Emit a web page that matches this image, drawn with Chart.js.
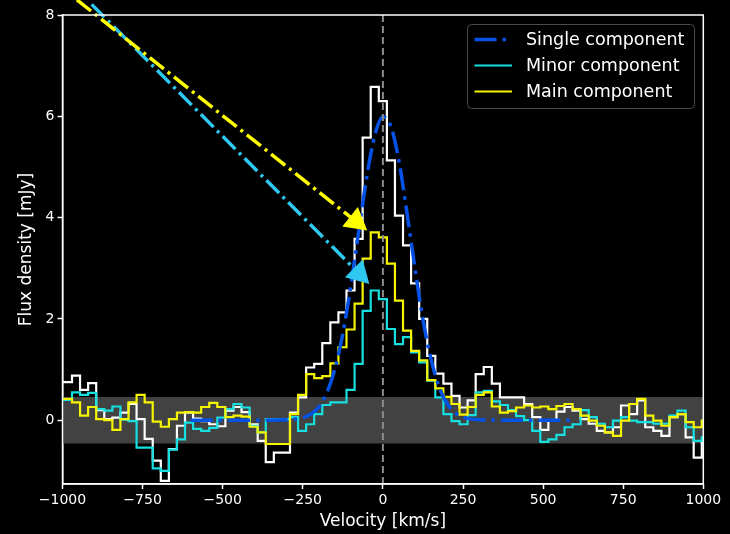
<!DOCTYPE html>
<html>
<head>
<meta charset="utf-8">
<script src="https://cdn.jsdelivr.net/npm/chart.js@4.4.1/dist/chart.umd.min.js"></script>
<style>
  html, body { margin: 0; padding: 0; background: #000; }
  #wrap { width: 730px; height: 534px; }
</style>
</head>
<body>
<div id="wrap"><canvas id="spec" width="730" height="534"></canvas></div>
<script>
// Channel grid: first channel centre and channel width, km/s
const V_FIRST = -1008.2;
const DV = 25.2;

// Flux per channel [mJy]
const totalFlux = [
  0.75, 0.75, 0.88, 0.60, 0.73, 0.20, 0.02, 0.05, 0.15, 0.32,
  0.02, -0.37, -0.80, -1.20, -0.57, -0.11, 0.15, 0.03, -0.02, -0.08,
  -0.12, 0.19, 0.26, 0.16, -0.08, -0.41, -0.83, -0.64, -0.64, 0.15,
  0.45, 1.04, 1.11, 1.52, 1.93, 2.13, 2.56, 3.58, 5.58, 6.58,
  6.30, 5.13, 4.04, 3.45, 2.70, 2.00, 1.27, 0.92, 0.72, 0.48,
  0.25, 0.39, 0.91, 1.05, 0.72, 0.45, 0.45, 0.45, 0.32, 0.06,
  -0.19, 0.00, 0.17, 0.26, 0.19, 0.02, -0.07, -0.21, -0.24, -0.14,
  0.29, 0.12, 0.39, -0.14, -0.21, -0.31, 0.06, 0.12, -0.34, -0.74,
  -0.41
];
const minorFlux = [
  0.40, 0.40, 0.55, 0.50, 0.54, 0.22, 0.19, 0.27, 0.01, -0.02,
  -0.54, -0.54, -0.95, -1.00, -0.58, -0.38, -0.05, -0.17, -0.21, -0.15,
  0.05, 0.22, 0.32, 0.25, -0.11, -0.24, 0.02, 0.02, 0.02, 0.06,
  -0.21, -0.08, 0.12, 0.30, 0.35, 0.35, 0.60, 1.11, 2.16, 2.56,
  2.39, 1.80, 1.50, 1.64, 1.34, 1.14, 0.78, 0.45, 0.12, -0.02,
  -0.08, 0.10, 0.55, 0.58, 0.37, 0.30, 0.20, 0.08, 0.00, -0.21,
  -0.43, -0.38, -0.29, -0.14, -0.08, 0.20, 0.06, -0.07, -0.14, -0.01,
  0.06, -0.01, -0.04, -0.04, -0.07, -0.07, 0.09, 0.19, -0.14, -0.41,
  -0.34
];
const mainFlux = [
  0.42, 0.42, 0.35, 0.09, 0.26, 0.02, 0.00, -0.19, 0.02, 0.35,
  0.50, 0.35, -0.03, -0.13, 0.02, 0.15, 0.16, 0.15, 0.26, 0.34,
  0.26, 0.06, 0.09, 0.07, -0.13, -0.24, -0.47, -0.47, -0.47, 0.12,
  0.50, 0.91, 0.83, 0.87, 1.12, 1.44, 1.79, 2.30, 3.19, 3.71,
  3.61, 3.09, 2.36, 1.77, 1.37, 1.18, 0.79, 0.63, 0.46, 0.32,
  0.11, 0.26, 0.50, 0.55, 0.27, 0.15, 0.18, 0.25, 0.29, 0.25,
  0.27, 0.22, 0.28, 0.32, 0.22, 0.09, -0.01, -0.11, -0.24, -0.31,
  -0.01, 0.32, 0.42, 0.09, -0.01, -0.11, 0.06, 0.12, -0.04, -0.14,
  -0.01
];

// Single-component fit, sampled off the plot
const gaussVel  = [-600, -400, -300, -250, -225, -200, -175, -150, -125, -100, -75, -50, -25,
                   0, 25, 50, 75, 100, 125, 150, 175, 200, 225, 250, 300, 400, 600];
const gaussFlux = [0, 0, 0.01, 0.05, 0.12, 0.26, 0.54, 1.01, 1.71, 2.66, 3.75, 4.82, 5.63,
                   5.99, 5.80, 5.12, 4.10, 3.00, 1.99, 1.21, 0.66, 0.33, 0.15, 0.06, 0.01, 0, 0];

const noiseBand = [-0.46, 0.46];
const xTicks = [-1000, -750, -500, -250, 0, 250, 500, 750, 1000];
const yTicks = [0, 2, 4, 6, 8];
const mainArrow  = [{ x: -955, y: 8.30 }, { x: -48.7, y: 3.745 }];
const minorArrow = [{ x: -909, y: 8.21 }, { x: -42.4, y: 2.69 }];

const velocities = totalFlux.map((_, i) => +(V_FIRST + i * DV).toFixed(1));
const steps = arr => arr.map((y, i) => ({ x: velocities[i], y }));

const FONT = 'DejaVu Sans';
Chart.defaults.font.family = FONT;

// white box round the axes
const framePlugin = {
  id: 'frame',
  afterDatasetsDraw(chart) {
    const { ctx, chartArea: a } = chart;
    ctx.save();
    ctx.strokeStyle = '#fff';
    ctx.lineWidth = 1.5;
    ctx.strokeRect(a.left, a.top, a.right - a.left, a.bottom - a.top);
    ctx.restore();
  }
};

// filled triangle at the end of the arrow datasets
const arrowHeadPlugin = {
  id: 'arrowHeads',
  afterDatasetsDraw(chart) {
    const ctx = chart.ctx;
    chart.data.datasets.forEach((ds, i) => {
      if (!ds.arrowHead) return;
      const pts = chart.getDatasetMeta(i).data;
      const a = pts[pts.length - 2], b = pts[pts.length - 1];
      const ang = Math.atan2(b.y - a.y, b.x - a.x);
      ctx.save();
      ctx.translate(b.x, b.y);
      ctx.rotate(ang);
      ctx.beginPath();
      ctx.moveTo(0, 0);
      ctx.lineTo(-22, -12.5);
      ctx.lineTo(-22, 12.5);
      ctx.closePath();
      ctx.fillStyle = ds.borderColor;
      ctx.fill();
      ctx.restore();
    });
  }
};

// framed legend in the upper right
const boxLegendPlugin = {
  id: 'boxLegend',
  afterDraw(chart) {
    const ctx = chart.ctx;
    const items = chart.data.datasets
      .filter(d => d.legendRow !== undefined)
      .sort((p, q) => p.legendRow - q.legendRow);
    const x = 467.5, y = 24.5, w = 227, h = 84, r = 4;
    ctx.save();
    ctx.beginPath();
    ctx.moveTo(x + r, y);
    ctx.arcTo(x + w, y, x + w, y + h, r);
    ctx.arcTo(x + w, y + h, x, y + h, r);
    ctx.arcTo(x, y + h, x, y, r);
    ctx.arcTo(x, y, x + w, y, r);
    ctx.closePath();
    ctx.fillStyle = 'rgba(0,0,0,0.8)';
    ctx.fill();
    ctx.strokeStyle = '#4a4a4a';
    ctx.lineWidth = 1;
    ctx.stroke();
    items.forEach((d, i) => {
      const cy = 39.5 + i * 26;
      ctx.strokeStyle = d.borderColor;
      ctx.lineWidth = d.borderWidth;
      ctx.setLineDash(d.borderDash || []);
      ctx.beginPath();
      ctx.moveTo(474.5, cy);
      ctx.lineTo(512, cy);
      ctx.stroke();
      ctx.setLineDash([]);
      ctx.fillStyle = '#fff';
      ctx.font = '17.5px "' + FONT + '"';
      ctx.textBaseline = 'middle';
      ctx.fillText(d.label, 526, cy + 1);
    });
    ctx.restore();
  }
};

const tickFont = { family: FONT, size: 14 };
const titleFont = { family: FONT, size: 17 };

new Chart(document.getElementById('spec'), {
  type: 'line',
  data: {
    datasets: [
      {
        label: 'Main arrow', data: mainArrow, arrowHead: true, order: 0,
        borderColor: '#ffff00', borderWidth: 3.5, borderDash: [18, 5, 3, 5],
        pointRadius: 0, clip: false
      },
      {
        label: 'Minor arrow', data: minorArrow, arrowHead: true, order: 0,
        borderColor: '#2ec8f0', borderWidth: 3.5, borderDash: [18, 5, 3, 5],
        pointRadius: 0, clip: false
      },
      {
        label: 'Systemic', data: [{ x: 0, y: -1.26 }, { x: 0, y: 8 }], order: 1,
        borderColor: '#8c8c8c', borderWidth: 2, borderDash: [7, 4], pointRadius: 0
      },
      {
        label: 'Single component', legendRow: 0, order: 2,
        data: gaussVel.map((v, i) => ({ x: v, y: gaussFlux[i] })),
        borderColor: '#0552e6', borderWidth: 3.5, borderDash: [22, 6, 3.5, 6],
        cubicInterpolationMode: 'monotone', pointRadius: 0, clip: 0
      },
      {
        label: 'Main component', legendRow: 2, order: 3, data: steps(mainFlux),
        borderColor: '#f5f500', borderWidth: 2.2, stepped: 'middle', pointRadius: 0, clip: 0
      },
      {
        label: 'Minor component', legendRow: 1, order: 4, data: steps(minorFlux),
        borderColor: '#16e0e0', borderWidth: 2.2, stepped: 'middle', pointRadius: 0, clip: 0
      },
      {
        label: 'Total', order: 5, data: steps(totalFlux),
        borderColor: '#ffffff', borderWidth: 2.2, stepped: 'middle', pointRadius: 0, clip: 0
      },
      {
        label: 'Noise', order: 6,
        data: [{ x: -1000, y: noiseBand[1] }, { x: 1000, y: noiseBand[1] }],
        fill: { value: noiseBand[0] }, backgroundColor: '#424242',
        borderWidth: 0, pointRadius: 0
      }
    ]
  },
  options: {
    responsive: false,
    devicePixelRatio: 1,
    animation: false,
    layout: { padding: { top: 15, right: 26.7, left: 0, bottom: 0 } },
    plugins: { legend: { display: false }, tooltip: { enabled: false } },
    scales: {
      x: {
        type: 'linear', min: -1000, max: 1000,
        afterBuildTicks: s => { s.ticks = xTicks.map(v => ({ value: v })); },
        afterFit: s => { s.height = 50; },
        grid: { drawOnChartArea: false, drawTicks: true, tickLength: 5, tickColor: '#fff', tickWidth: 1.5 },
        border: { display: true, color: '#fff', width: 1.5 },
        ticks: {
          color: '#fff', font: tickFont, padding: 3, maxRotation: 0,
          callback: v => (v < 0 ? '\u2212' + Math.abs(v) : String(v))
        },
        title: { display: true, text: 'Velocity [km/s]', color: '#fff', font: titleFont, padding: { top: 0, bottom: 2.5 } }
      },
      y: {
        type: 'linear', min: -1.26, max: 8,
        afterBuildTicks: s => { s.ticks = yTicks.map(v => ({ value: v })); },
        afterFit: s => { s.width = 62.5; },
        grid: { drawOnChartArea: false, drawTicks: true, tickLength: 5, tickColor: '#fff', tickWidth: 1.5 },
        border: { display: true, color: '#fff', width: 1.5 },
        ticks: { color: '#fff', font: tickFont, padding: 3, callback: v => String(v) },
        title: { display: true, text: 'Flux density [mJy]', color: '#fff', font: titleFont, padding: { top: 16, bottom: 0 } }
      }
    }
  },
  plugins: [framePlugin, arrowHeadPlugin, boxLegendPlugin]
});
</script>
</body>
</html>
